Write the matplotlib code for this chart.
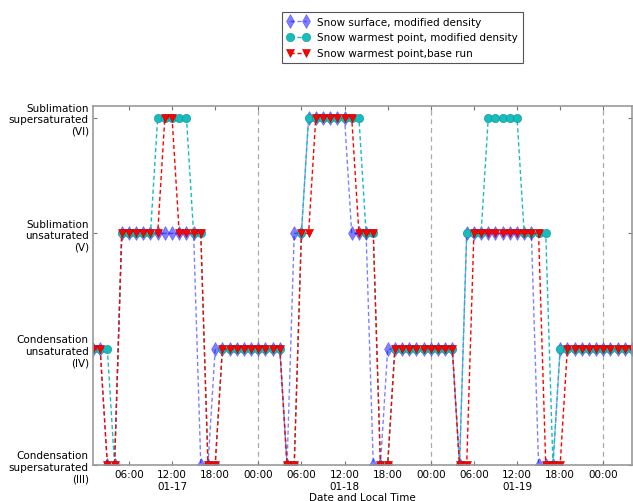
import matplotlib
matplotlib.use('Agg')
import matplotlib.pyplot as plt
import matplotlib.dates as mdates
from matplotlib.ticker import FuncFormatter
import pandas as pd

plt.rcParams['font.family'] = ['DejaVu Sans']
plt.rcParams['font.size'] = 7.5

# Hourly time axis: 01-17 01:00 .. 01-20 04:00
times = pd.date_range('2015-01-17 01:00', periods=76, freq='h')

# Levels: 3=III, 4=IV, 5=V, 6=VI
surface_mod = ([4, 4] + [3, 3] + [5] * 11 + [3, 3] + [4] * 10 + [3] + [5, 5]
               + [6] * 6 + [5] * 3 + [3, 3] + [4] * 10 + [3] + [5] * 10
               + [3] * 3 + [4] * 11)
warmest_mod = ([4, 4, 4] + [3] + [5] * 5 + [6] * 5 + [5, 5] + [3, 3] + [4] * 9
               + [3, 3] + [5] + [6] * 8 + [5, 5] + [3, 3] + [4] * 9 + [3]
               + [5] * 3 + [6] * 5 + [5] * 4 + [3] + [4] * 11)
warmest_base = ([4, 4] + [3, 3] + [5] * 6 + [6, 6] + [5] * 4 + [3, 3] + [4] * 9
                + [3, 3] + [5, 5] + [6] * 6 + [5] * 3 + [3, 3] + [4] * 9
                + [3, 3] + [5] * 10 + [3] * 3 + [4] * 10)

level_values = [3, 4, 5, 6]
level_labels = ['Condensation\nsupersaturated\n(III)',
                'Condensation\nunsaturated\n(IV)',
                'Sublimation\nunsaturated\n(V)',
                'Sublimation\nsupersaturated\n(VI)']

series_labels = ['Snow surface, modified density',
                 'Snow warmest point, modified density',
                 'Snow warmest point,base run']

fig = plt.figure(figsize=(6.33, 5.02), dpi=100)
ax = fig.add_axes([93 / 633, 1 - 466 / 502, (632 - 93) / 633, (466 - 107) / 502])

ls = (0, (3, 2))
ax.plot(times, surface_mod, linestyle=ls, linewidth=1, color='blue', alpha=0.5,
        marker='d', markersize=7, markeredgecolor='blue', markeredgewidth=0.4,
        label=series_labels[0])
ax.plot(times, warmest_mod, linestyle=ls, linewidth=1, color='#18bcbc',
        marker='o', markersize=6, markeredgecolor='#108f8f', markeredgewidth=0.4,
        label=series_labels[1])
ax.plot(times, warmest_base, linestyle=ls, linewidth=1, color='red',
        marker='v', markersize=5.5, markeredgecolor='#b00000', markeredgewidth=0.4,
        label=series_labels[2])

ax.set_xlim(times[0], times[-1])
ax.set_ylim(3, 6.1)
ax.set_yticks(level_values)
ax.set_yticklabels(level_labels, ha='right', multialignment='right')

ax.xaxis.set_major_locator(mdates.HourLocator(byhour=[0, 6, 12, 18]))


def fmt(x, pos):
    dt = mdates.num2date(x)
    s = dt.strftime('%H:%M')
    if dt.hour == 12:
        s += '\n' + dt.strftime('%m-%d')
    return s


ax.xaxis.set_major_formatter(FuncFormatter(fmt))

# dashed gray lines at midnights
for t in times:
    if t.hour == 0:
        ax.axvline(t, color='#aaaaaa', linestyle=(0, (4, 3)), linewidth=0.9, zorder=0)

ax.tick_params(direction='in', top=True, right=True, length=3, color='#777777',
               labelsize=7.5, pad=3)
for sp in ax.spines.values():
    sp.set_color('#999999')
    sp.set_linewidth(1.2)

ax.set_xlabel('Date and Local Time', fontsize=7.5, labelpad=1)

leg = ax.legend(loc='upper left', bbox_to_anchor=(282 / 633, 1 - 12.5 / 502),
                bbox_transform=fig.transFigure, numpoints=2, handlelength=2.1,
                borderaxespad=0, fancybox=False, framealpha=1, fontsize=7.5,
                labelspacing=0.55, borderpad=0.5)
leg.get_frame().set_edgecolor('#555555')
leg.get_frame().set_linewidth(0.8)

fig.savefig('out.png', dpi=100)
